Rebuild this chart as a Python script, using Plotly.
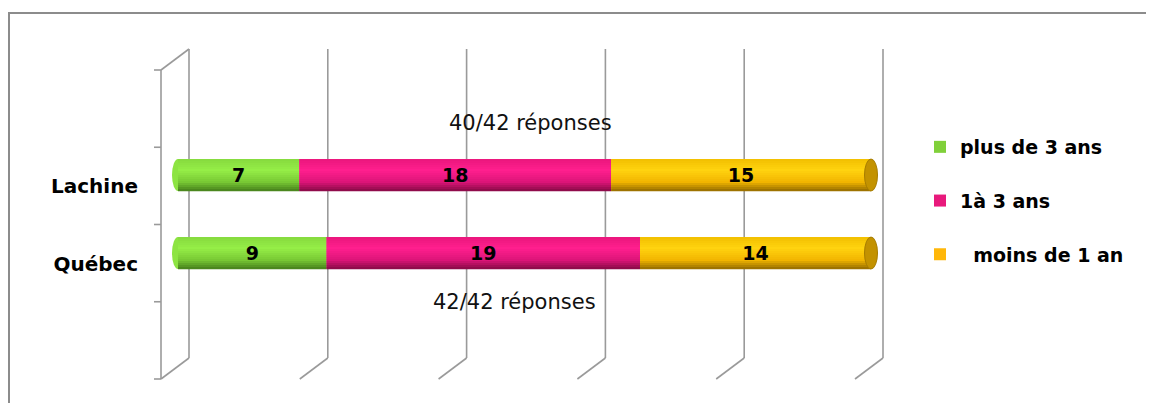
import plotly.graph_objects as go

# ---------------- data ----------------
categories = ["Lachine", "Québec"]
series_names = ["plus de 3 ans", "1à 3 ans", "  moins de 1 an"]
plus_de_3_ans = [7, 9]
un_a_3_ans = [18, 19]
moins_de_1_an = [15, 14]
total_repondants = 42
grid_ticks = [0, 20, 40, 60, 80, 100]

series_values = [plus_de_3_ans, un_a_3_ans, moins_de_1_an]

# ---------------- styles ----------------
legend_colors = ["#80d03a", "#e8197c", "#ffb70a"]
shade_stops = [
    [(0.0, "#86da3e"), (0.35, "#95ee47"), (0.72, "#78c834"), (1.0, "#457f1b")],
    [(0.0, "#ea167c"), (0.35, "#ff1f8e"), (0.72, "#dc1478"), (1.0, "#870a45")],
    [(0.0, "#f2bf00"), (0.35, "#ffd30f"), (0.72, "#f2b500"), (1.0, "#946b00")],
]
cap_color = "#c39200"
FONT = "DejaVu Sans"
GRID_COLOR = "#9a9a9a"

# pixel geometry (page coordinates of the 1154x403 window)
PAGE_W, PAGE_H = 1154, 403
BODY = 8                            # default body margin of the html page
W, H = PAGE_W - BODY, PAGE_H - BODY
PLOT_L, PLOT_R, PLOT_T, PLOT_B = 157, 882, 49, 379
X0_PX, X100_PX = 178, 871          # where 0 % and 100 % of the bars fall
CAT0_PX, CAT_STEP = 175, 78        # centre of first bar, distance between bars
BAR_PX = 32
BACK0_PX, BACK100_PX = 189, 883    # back-wall grid lines
DEPTH_DX, DEPTH_DY = -28, 21       # perspective offset of the floor
FLOOR_Y = 358

px_per_unit = (X100_PX - X0_PX) / 100.0
x_range = [(PLOT_L - X0_PX) / px_per_unit, 100 + (PLOT_R - X100_PX) / px_per_unit]
y_range = [(PLOT_B - CAT0_PX) / CAT_STEP, (PLOT_T - CAT0_PX) / CAT_STEP]
bar_w = BAR_PX / CAT_STEP


def pxx(x):
    return (x - PLOT_L) / (PLOT_R - PLOT_L)


def pxy(y):
    return (PLOT_B - y) / (PLOT_B - PLOT_T)


def hex2rgb(h):
    h = h.lstrip("#")
    return [int(h[i:i + 2], 16) for i in (0, 2, 4)]


def interp(stops, t):
    for (t0, c0), (t1, c1) in zip(stops[:-1], stops[1:]):
        if t0 <= t <= t1:
            f = (t - t0) / (t1 - t0)
            a, b = hex2rgb(c0), hex2rgb(c1)
            return "rgb(%d,%d,%d)" % tuple(round(a[i] + (b[i] - a[i]) * f) for i in range(3))
    return stops[-1][1]


# ---------------- derived values ----------------
totals = [sum(v[i] for v in series_values) for i in range(len(categories))]
pcts = [[v[i] / totals[i] * 100 for i in range(len(categories))] for v in series_values]
bases = []
for s in range(len(series_values)):
    bases.append([sum(pcts[k][i] for k in range(s)) for i in range(len(categories))])

fig = go.Figure()

# solid bars (also the legend entries)
for s, name in enumerate(series_names):
    fig.add_trace(go.Bar(
        y=categories, x=pcts[s], base=bases[s], orientation="h", name=name,
        width=bar_w, marker=dict(color=legend_colors[s], line=dict(width=0)),
        legendgroup=name, hoverinfo="skip", showlegend=True))

# cylinder shading bands
K = 16
for s, name in enumerate(series_names):
    for k in range(K):
        t = (k + 0.5) / K
        fig.add_trace(go.Bar(
            y=categories, x=pcts[s], base=bases[s], orientation="h",
            width=bar_w / K * 1.15, offset=-bar_w / 2 + k * bar_w / K,
            marker=dict(color=interp(shade_stops[s], t), line=dict(width=0)),
            showlegend=False, legendgroup=name, hoverinfo="skip"))

# value labels
for s, name in enumerate(series_names):
    fig.add_trace(go.Bar(
        y=categories, x=pcts[s], base=bases[s], orientation="h",
        width=bar_w, marker=dict(color="rgba(0,0,0,0)", line=dict(width=0)),
        text=[str(v) for v in series_values[s]], textposition="inside",
        insidetextanchor="middle", constraintext="none",
        textfont=dict(family=FONT, size=19, color="black", weight="bold"),
        showlegend=False, legendgroup=name, hoverinfo="skip"))

shapes = []
# outer frame
shapes.append(dict(type="rect", xref="paper", yref="paper",
                   x0=pxx(BODY + 1), x1=pxx(PAGE_W + 10), y0=pxy(13), y1=pxy(PAGE_H + 10),
                   line=dict(color="#8c8c8c", width=2), layer="below"))
# back wall grid lines + floor diagonals
for v in grid_ticks:
    bx = BACK0_PX + v / 100 * (BACK100_PX - BACK0_PX)
    shapes.append(dict(type="line", xref="paper", yref="paper",
                       x0=pxx(bx), x1=pxx(bx), y0=pxy(PLOT_T), y1=pxy(FLOOR_Y),
                       line=dict(color=GRID_COLOR, width=1.6), layer="below"))
    shapes.append(dict(type="line", xref="paper", yref="paper",
                       x0=pxx(bx), x1=pxx(bx + DEPTH_DX), y0=pxy(FLOOR_Y), y1=pxy(FLOOR_Y + DEPTH_DY),
                       line=dict(color=GRID_COLOR, width=1.6), layer="below"))
# left side wall
fx = BACK0_PX + DEPTH_DX
front_top = PLOT_T + DEPTH_DY
shapes.append(dict(type="line", xref="paper", yref="paper",
                   x0=pxx(fx), x1=pxx(fx), y0=pxy(front_top), y1=pxy(FLOOR_Y + DEPTH_DY),
                   line=dict(color=GRID_COLOR, width=1.6), layer="below"))
shapes.append(dict(type="line", xref="paper", yref="paper",
                   x0=pxx(fx), x1=pxx(BACK0_PX), y0=pxy(front_top), y1=pxy(PLOT_T),
                   line=dict(color=GRID_COLOR, width=1.6), layer="below"))
n_ticks = 5
for i in range(n_ticks):
    ty = front_top + i * (FLOOR_Y + DEPTH_DY - front_top) / (n_ticks - 1)
    shapes.append(dict(type="line", xref="paper", yref="paper",
                       x0=pxx(fx - 7), x1=pxx(fx), y0=pxy(ty), y1=pxy(ty),
                       line=dict(color=GRID_COLOR, width=1.6), layer="below"))
# rounded bar starts and end caps
for i in range(len(categories)):
    shapes.append(dict(type="circle", xref="x", yref="y", xsizemode="pixel", xanchor=0,
                       x0=-6, x1=6, y0=i - bar_w / 2, y1=i + bar_w / 2,
                       fillcolor=interp(shade_stops[0], 0.45), line=dict(width=0), layer="below"))
    shapes.append(dict(type="circle", xref="x", yref="y", xsizemode="pixel", xanchor=100,
                       x0=-6.5, x1=6.5, y0=i - bar_w / 2, y1=i + bar_w / 2,
                       fillcolor=cap_color, line=dict(color="#a67c00", width=1), layer="above"))

annotations = []
ann_y = [-0.67, 1.63]
ann_x = [50.8, 48.6]
for i in range(len(categories)):
    annotations.append(dict(x=ann_x[i], y=ann_y[i], xref="x", yref="y",
                            text=f"{totals[i]}/{total_repondants} réponses", showarrow=False,
                            font=dict(family=FONT, size=21, color="#111111")))

fig.update_layout(
    width=W, height=H,
    margin=dict(l=PLOT_L - BODY, r=PAGE_W - PLOT_R, t=PLOT_T - BODY, b=PAGE_H - PLOT_B, pad=0),
    barmode="overlay",
    plot_bgcolor="white", paper_bgcolor="white",
    xaxis=dict(range=x_range, showgrid=False, zeroline=False, showticklabels=False,
               showline=False, ticks="", fixedrange=True),
    yaxis=dict(range=y_range, type="category", showgrid=False, zeroline=False, showline=False,
               ticks="", ticklabelstandoff=18, ticklabelshift=-11,
               tickfont=dict(family=FONT, size=20, color="black", weight="bold")),
    legend=dict(x=pxx(920), y=pxy(128), xanchor="left", yanchor="top",
                font=dict(family=FONT, size=19, color="black", weight="bold"),
                tracegroupgap=26, traceorder="grouped", bgcolor="rgba(0,0,0,0)"),
    shapes=shapes, annotations=annotations, showlegend=True,
)

fig.write_html("out.html")
